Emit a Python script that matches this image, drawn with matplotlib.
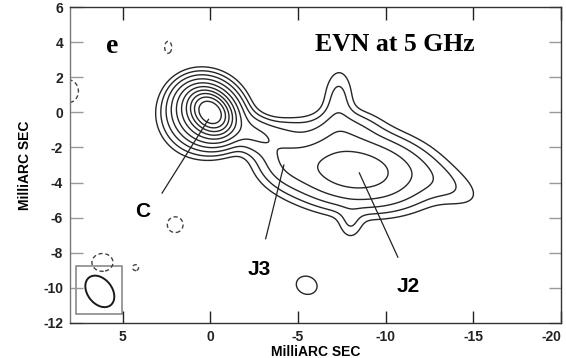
import numpy as np
import matplotlib
matplotlib.use("Agg")
import matplotlib.pyplot as plt
from matplotlib.patches import Ellipse, Rectangle

# Gaussian components that make up the map (x, y in mas, peak in units of lowest contour)
# core narrow, core medium, core halo, inner jet, upper ridge, J3, J2, J2 upper halo,
# tail, spike, lower lobe, isolated blob
comp_x = [0.0, 0.1, 0.4, -2.4, -4.3, -4.4, -8.2, -7.6, -13.4, -7.3, -8.0, -5.5]
comp_y = [0.0, -0.05, -0.1, -1.2, -1.0, -2.8, -3.3, -1.0, -4.1, 0.6, -6.3, -9.85]
comp_peak = [1000, 150, 20, 8, 1.8, 4.5, 24, 3.8, 1.6, 2.6, 1.7, 1.3]
comp_sx = [0.52, 0.82, 1.1, 1.2, 1.0, 1.0, 2.15, 1.2, 1.6, 1.2, 0.45, 0.83]
comp_sy = [0.40, 0.68, 1.05, 0.6, 0.45, 0.8, 1.1, 0.7, 0.7, 0.55, 0.65, 0.7]
comp_pa = [45, 40, 0, 25, 0, 20, 6, 0, 25, 92, 0, 20]

# negative (dashed) blobs
neg_x = [2.4, 8.1, 2.0, 6.15, 4.25]
neg_y = [3.7, 1.2, -6.4, -8.55, -8.85]
neg_sx = [0.28, 0.8, 0.62, 0.83, 0.2]
neg_sy = [0.48, 0.9, 0.62, 0.7, 0.2]

levels = [1, 2, 4, 8, 16, 32, 64, 128, 256, 512]
neg_levels = [-1]

xticks = [5, 0, -5, -10, -15, -20]
yticks = [6, 4, 2, 0, -2, -4, -6, -8, -10, -12]

beam_xy = (6.3, -10.2)
beam_w, beam_h, beam_pa = 2.0, 1.4, 52


def gauss(X, Y, x0, y0, amp, sx, sy, pa):
    t = np.deg2rad(pa)
    dx, dy = X - x0, Y - y0
    u = dx * np.cos(t) + dy * np.sin(t)
    v = -dx * np.sin(t) + dy * np.cos(t)
    return amp * np.exp(-0.5 * ((u / sx) ** 2 + (v / sy) ** 2))


x = np.arange(-21, 9.5, 0.04)
y = np.arange(-13, 7, 0.04)
X, Y = np.meshgrid(x, y)
Z = np.zeros_like(X)
for c in zip(comp_x, comp_y, comp_peak, comp_sx, comp_sy, comp_pa):
    Z += gauss(X, Y, *c)
for nx, ny, sx, sy in zip(neg_x, neg_y, neg_sx, neg_sy):
    Z += gauss(X, Y, nx, ny, -1.3, sx, sy, 0)

fig = plt.figure(figsize=(5.66, 3.58), dpi=100)
ax = fig.add_axes([0.1237, 0.0978, 0.8673, 0.8826])

ax.contour(X, Y, Z, levels=levels, colors="#262626", linewidths=1.0)
ax.contour(X, Y, Z, levels=neg_levels, colors="#444444", linewidths=1.0,
           linestyles=[(0, (3, 2))])

ax.add_patch(Ellipse(beam_xy, beam_w, beam_h, angle=beam_pa, fill=False,
                     ec="#1a1a1a", lw=1.4))
ax.add_patch(Rectangle((5.02, -11.5), 2.62, 2.73, fill=False, ec="#8a8a8a", lw=1.2))

# pointer lines
ax.plot([0.1, 2.75], [-0.4, -4.6], color="#222222", lw=0.9)
ax.plot([-4.2, -3.16], [-3.0, -7.2], color="#222222", lw=0.9)
ax.plot([-8.5, -10.7], [-3.45, -8.25], color="#222222", lw=0.9)

lab = dict(family="Liberation Sans", fontweight="bold", fontsize=15,
           ha="center", va="center")
ax.text(3.88, -5.65, "C", **lab)
ax.text(-2.77, -8.93, "J3", **lab)
ax.text(-11.3, -9.9, "J2", **lab)
ax.text(5.6, 3.75, "e", family="Liberation Serif", fontweight="bold",
        fontsize=20, ha="center", va="center")
ax.text(-10.5, 3.84, "EVN at 5 GHz", family="Liberation Serif",
        fontweight="bold", fontsize=18.5, ha="center", va="center")

ax.set_xlim(8, -20)
ax.set_ylim(-12, 6)
ax.set_xticks(xticks)
ax.set_yticks(yticks)
ax.set_xticklabels([str(t) for t in xticks])
ax.set_yticklabels([str(t) for t in yticks])
ax.tick_params(direction="in", length=9, width=1, top=True, right=True,
               pad=5, labelsize=10, colors="#222222")
ax.tick_params(axis="y", color="#999999")
for t in ax.get_xticklabels() + ax.get_yticklabels():
    t.set_family("Liberation Sans")
    t.set_fontweight("bold")
ax.get_xticklabels()[-1].set_ha("right")
for s in ax.spines.values():
    s.set_color("#333333")
    s.set_linewidth(1.0)
ax.spines["left"].set_color("#777777")

ax.set_xlabel("MilliARC SEC", family="Liberation Sans", fontweight="bold",
              fontsize=10, labelpad=1)
ax.set_ylabel("MilliARC SEC", family="Liberation Sans", fontweight="bold",
              fontsize=10, labelpad=8)

fig.savefig("out.png", dpi=100)
